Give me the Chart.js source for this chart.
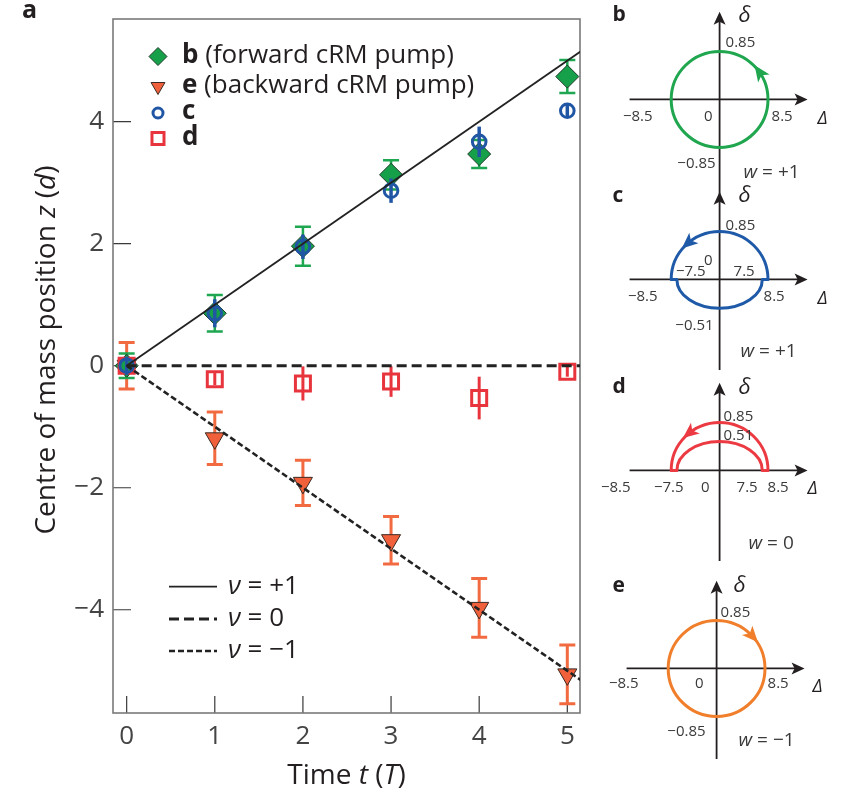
<!DOCTYPE html>
<html>
<head>
<meta charset="utf-8">
<script src="https://cdn.jsdelivr.net/npm/chart.js@4.4.0/dist/chart.umd.min.js"></script>
<style>
  html, body { margin: 0; padding: 0; background: #fff; }
  #wrap { position: relative; width: 850px; height: 793px; overflow: hidden; }
  canvas { position: absolute; }
</style>
</head>
<body>
<div id="wrap">
  <canvas id="main" width="600" height="793" style="left:0;top:0"></canvas>
  <canvas id="panelB" width="250" height="200" style="left:600px;top:0px"></canvas>
  <canvas id="panelC" width="250" height="200" style="left:600px;top:180px"></canvas>
  <canvas id="panelD" width="250" height="200" style="left:600px;top:371px"></canvas>
  <canvas id="panelE" width="250" height="200" style="left:597px;top:569px"></canvas>
</div>
<script>
// ---- data ----
const timeT = [0, 1, 2, 3, 4, 5];
const zForward = [0, 0.86, 1.96, 3.13, 3.47, 4.74];     // b, forward cRM pump
const errForward = [0.2, 0.3, 0.32, 0.24, 0.23, 0.27];
const zBackward = [0, -1.19, -1.92, -2.86, -3.97, -5.06]; // e, backward cRM pump
const errBackward = [0.38, 0.43, 0.37, 0.39, 0.48, 0.48];
const zC = [0, 0.86, 1.95, 2.87, 3.67, 4.18];
const errC = [0.15, 0.23, 0.2, 0.2, 0.25, 0.1];
const zD = [0, -0.22, -0.29, -0.26, -0.53, -0.1];
const errD = [0.1, 0.1, 0.28, 0.25, 0.35, 0.08];

const tTicks = [0, 1, 2, 3, 4, 5];
const zTicks = [-4, -2, 0, 2, 4];

// topological pumping lines z = nu * t
const nuValues = [1, 0, -1];
const nuLabels = ['+1', '0', '\u22121'];
const fitT = [0, 5.3];

// insets b-e : loops in the (Delta, delta) plane
const panelKeys = ['b', 'c', 'd', 'e'];
const windingW = ['+1', '+1', '0', '\u22121'];
const upperDelta = [8.5, 8.5, 8.5, 8.5];
const upperAmp = [0.85, 0.85, 0.85, 0.85];
const lowerDelta = [8.5, 7.5, 7.5, 8.5];
const lowerAmp = [-0.85, -0.51, 0.51, -0.85];
const loopSense = [1, 1, 1, -1]; // +1 counter-clockwise, -1 clockwise

// ---- styles ----
const FONT = '"Open Sans", "DejaVu Sans", sans-serif';
const INK = '#231f20';
const minus = v => (v < 0 ? '\u2212' + Math.abs(v) : String(v));

const series = [
  { key: 'b', note: '(forward cRM pump)', z: zForward, err: errForward, style: 'rectRot', radius: 11.5,
    rotation: 0, fill: '#17a04a', stroke: '#1c3b28', bw: 1, errColor: '#1fa650', errWidth: 2.5, cap: 8, over: false,
    legendRadius: 9, order: 4 },
  { key: 'e', note: '(backward cRM pump)', z: zBackward, err: errBackward, style: 'triangle', radius: 11,
    rotation: 180, fill: '#f0603a', stroke: '#3b2a22', bw: 1, errColor: '#f26b40', errWidth: 3, cap: 8, over: false,
    legendRadius: 8, order: 4 },
  { key: 'c', note: '', z: zC, err: errC, style: 'circle', radius: 6.8,
    rotation: 0, fill: 'rgba(0,0,0,0)', stroke: '#2156a5', bw: 3, errColor: '#2156a5', errWidth: 3.5, cap: 0, over: true,
    legendRadius: 5, order: 2 },
  { key: 'd', note: '', z: zD, err: errD, style: 'rect', radius: 10.6,
    rotation: 0, fill: 'rgba(0,0,0,0)', stroke: '#e8353d', bw: 3, errColor: '#e8353d', errWidth: 3, cap: 0, over: true,
    legendRadius: 8.5, order: 3 }
];
const nuStyles = [
  { width: 1.8, dash: [] },
  { width: 3, dash: [10, 5] },
  { width: 2.6, dash: [6, 3] }
];

function runs(ctx, parts, x, y, align) {
  let total = 0;
  parts.forEach(p => { ctx.font = p[1]; total += ctx.measureText(p[0]).width; });
  let cx = align === 'center' ? x - total / 2 : align === 'right' ? x - total : x;
  ctx.textAlign = 'left';
  parts.forEach(p => { ctx.font = p[1]; ctx.fillText(p[0], cx, y); cx += ctx.measureText(p[0]).width; });
}

// error bars: behind markers for b/e, on top for c/d
function drawErr(chart, args, over) {
  const ds = chart.data.datasets[args.index];
  if (!ds.errors || ds.errOver !== over) return;
  const { ctx, scales: { x, y } } = chart;
  ctx.save();
  ctx.strokeStyle = ds.errColor;
  ctx.lineWidth = ds.errWidth;
  ds.data.forEach((p, i) => {
    const px = x.getPixelForValue(p.x);
    const y1 = y.getPixelForValue(p.y + ds.errors[i]);
    const y2 = y.getPixelForValue(p.y - ds.errors[i]);
    ctx.beginPath();
    ctx.moveTo(px, y1); ctx.lineTo(px, y2);
    if (ds.errCap) {
      ctx.moveTo(px - ds.errCap, y1); ctx.lineTo(px + ds.errCap, y1);
      ctx.moveTo(px - ds.errCap, y2); ctx.lineTo(px + ds.errCap, y2);
    }
    ctx.stroke();
  });
  ctx.restore();
}

const errorBars = {
  id: 'errorBars',
  beforeDatasetDraw(chart, args) { drawErr(chart, args, false); },
  afterDatasetDraw(chart, args) { drawErr(chart, args, true); }
};

const frame = {
  id: 'frame',
  beforeDatasetsDraw(chart) {
    const { ctx, chartArea: a, scales: { x, y } } = chart;
    ctx.save();
    ctx.strokeStyle = '#3a3a3a';
    ctx.lineWidth = 1.2;
    ctx.beginPath();
    x.ticks.forEach(t => { const px = x.getPixelForValue(t.value); ctx.moveTo(px, a.bottom); ctx.lineTo(px, a.bottom - 17); });
    y.ticks.forEach(t => { const py = y.getPixelForValue(t.value); ctx.moveTo(a.left, py); ctx.lineTo(a.left + 18, py); });
    ctx.stroke();
    ctx.strokeStyle = '#7a7a7a';
    ctx.lineWidth = 1.6;
    ctx.strokeRect(a.left, a.top, a.right - a.left, a.bottom - a.top);
    ctx.restore();
  },
  afterDraw(chart) {
    const { ctx, chartArea: a } = chart;
    ctx.save();
    ctx.fillStyle = INK;
    ctx.textBaseline = 'middle';
    // panel letter
    runs(ctx, [['a', 'bold 25px ' + FONT]], 22, 11, 'left');
    // marker legend
    const rowY = [37.5, 67.5, 94, 119.5];
    series.forEach((s, i) => {
      const cy = a.top + rowY[i];
      ctx.fillStyle = s.fill; ctx.strokeStyle = s.stroke;
      ctx.lineWidth = s.bw;
      Chart.helpers.drawPoint(ctx, { pointStyle: s.style, radius: s.legendRadius, rotation: s.rotation, borderWidth: s.bw }, a.left + 45, cy);
      ctx.fillStyle = INK;
      const parts = [[s.key, 'bold 26px ' + FONT]];
      if (s.note) parts.push([' ' + s.note, '26px ' + FONT]);
      runs(ctx, parts, a.left + 69, cy - 1, 'left');
    });
    // line legend
    const lineY = [567.7, 600, 632];
    nuValues.forEach((nu, i) => {
      const cy = a.top + lineY[i];
      ctx.strokeStyle = '#222'; ctx.lineWidth = nuStyles[i].width;
      ctx.setLineDash(nuStyles[i].dash);
      ctx.beginPath(); ctx.moveTo(a.left + 56, cy); ctx.lineTo(a.left + 104, cy); ctx.stroke();
      ctx.setLineDash([]);
      ctx.fillStyle = INK;
      runs(ctx, [['\u03bd', 'italic 26px ' + FONT], [' = ' + nuLabels[i], '26px ' + FONT]], a.left + 115, cy, 'left');
    });
    // axis titles
    runs(ctx, [['Time ', '28px ' + FONT], ['t', 'italic 28px ' + FONT], [' (', '28px ' + FONT],
      ['T', 'italic 28px ' + FONT], [')', '28px ' + FONT]], (a.left + a.right) / 2, 776, 'center');
    ctx.translate(47, 350);
    ctx.rotate(-Math.PI / 2);
    runs(ctx, [['Centre of mass position ', '28px ' + FONT], ['z', 'italic 28px ' + FONT], [' (', '28px ' + FONT],
      ['d', 'italic 28px ' + FONT], [')', '28px ' + FONT]], 0, 0, 'center');
    ctx.restore();
  }
};

const pts = ys => timeT.map((t, i) => ({ x: t, y: ys[i] }));

const datasets = series.map(s => ({
  type: 'scatter',
  label: s.key,
  data: pts(s.z),
  errors: s.err,
  errColor: s.errColor, errWidth: s.errWidth, errCap: s.cap, errOver: s.over,
  pointStyle: s.style, pointRadius: s.radius, pointRotation: s.rotation,
  backgroundColor: s.fill, borderColor: s.stroke, pointBorderWidth: s.bw,
  order: s.order, clip: false
}));
nuValues.forEach((nu, i) => {
  datasets.push({
    type: 'line',
    label: '\u03bd = ' + nuLabels[i],
    data: fitT.map(t => ({ x: t, y: nu * t })),
    borderColor: '#222', borderWidth: nuStyles[i].width, borderDash: nuStyles[i].dash,
    pointRadius: 0, fill: false, order: 0, clip: 0
  });
});

new Chart(document.getElementById('main'), {
  type: 'scatter',
  data: { datasets },
  options: {
    responsive: false, animation: false, devicePixelRatio: 1, events: [],
    layout: { padding: { top: 19, right: 20, left: 0, bottom: 0 } },
    plugins: { legend: { display: false }, tooltip: { enabled: false } },
    scales: {
      x: {
        type: 'linear', min: -0.155, max: 5.144,
        afterBuildTicks: s => { s.ticks = tTicks.map(v => ({ value: v })); },
        afterFit: s => { s.height = 80; s.paddingLeft = 0; s.paddingRight = 0; },
        grid: { display: false, drawTicks: false }, border: { display: false },
        ticks: { padding: 8, color: '#444', font: { family: FONT, size: 26 }, callback: v => minus(v), maxRotation: 0 }
      },
      y: {
        type: 'linear', min: -5.693, max: 5.684,
        afterBuildTicks: s => { s.ticks = zTicks.map(v => ({ value: v })); },
        afterFit: s => { s.width = 113; s.paddingTop = 0; s.paddingBottom = 0; },
        grid: { display: false, drawTicks: false }, border: { display: false },
        ticks: { padding: 9, color: '#444', font: { family: FONT, size: 26 }, callback: v => minus(v) }
      }
    }
  },
  plugins: [errorBars, frame]
});

// ---- insets ----
const loopColors = ['#1fa64f', '#1f5aa8', '#ec3a42', '#f07e2a'];
const arrowAngle = [35, 131, 129, 42]; // degrees along outer arc
const NUM = '15px ' + FONT;
const panelLabels = [
  [['\u03b4', 19, -84, 'left', 'g'], ['0.85', 6, -57, 'left'], ['\u22128.5', -67, 17, 'right'], ['0', -7, 17, 'right'],
   ['8.5', 52, 17, 'left'], ['\u0394', 98, 19, 'left', 'D'], ['\u22120.85', -4, 64, 'right'], ['w', 24, 73, 'left', 'w'], ['b', -107, -84, 'left', 'k']],
  [['\u03b4', 19, -84, 'left', 'g'], ['0.85', 6, -54, 'left'], ['0', -7, -19, 'right'], ['\u22127.5', -14, -8, 'right'],
   ['7.5', 14, -8, 'left'], ['\u22128.5', -62, 17, 'right'], ['8.5', 44, 17, 'left'], ['\u0394', 98, 19, 'left', 'D'],
   ['\u22120.51', -6, 46, 'right'], ['w', 21, 72, 'left', 'w'], ['c', -107, -83, 'left', 'k']],
  [['\u03b4', 19, -83, 'left', 'g'], ['0.85', 4, -54, 'left'], ['0.51', 4, -35, 'left'], ['\u22128.5', -89, 17, 'right'],
   ['\u22127.5', -36, 17, 'right'], ['0', -10, 17, 'right'], ['7.5', 17, 17, 'left'], ['8.5', 48, 17, 'left'],
   ['\u0394', 88, 18, 'left', 'D'], ['w', 29, 73, 'left', 'w'], ['d', -107, -83, 'left', 'k']],
  [['\u03b4', 17, -83, 'left', 'g'], ['0.85', 4, -56, 'left'], ['\u22128.5', -78, 15, 'right'], ['0', -13, 15, 'right'],
   ['8.5', 51, 15, 'left'], ['\u0394', 96, 18, 'left', 'D'], ['\u22120.85', -11, 63, 'right'], ['w', 22, 72, 'left', 'w'], ['e', -104, -82, 'left', 'k']]
];

function arrowHead(ctx, x, y, ux, uy, len, half, notch) {
  const bx = x - ux * len, by = y - uy * len;
  ctx.beginPath();
  ctx.moveTo(x, y);
  ctx.lineTo(bx - uy * half, by + ux * half);
  ctx.lineTo(bx + ux * notch, by + uy * notch);
  ctx.lineTo(bx + uy * half, by - ux * half);
  ctx.closePath();
  ctx.fill();
}

const loopPlugin = {
  id: 'loopPanel',
  afterDraw(chart, args, opts) {
    const i = opts.panel;
    const { ctx, scales: { x, y } } = chart;
    const ox = x.getPixelForValue(0), oy = y.getPixelForValue(0);
    ctx.save();
    // axes with arrows
    ctx.strokeStyle = INK; ctx.fillStyle = INK; ctx.lineWidth = 1.8;
    const top = 11.7, bottom = i === 0 ? 195 : 190;
    ctx.beginPath();
    ctx.moveTo(ox - 90, oy); ctx.lineTo(ox + 80, oy);
    ctx.moveTo(ox, bottom); ctx.lineTo(ox, top + 8);
    ctx.stroke();
    arrowHead(ctx, ox + 88, oy, 1, 0, 13, 6, 3);
    arrowHead(ctx, ox, top, 0, -1, 13, 6, 3);
    // loop
    const rxU = x.getPixelForValue(upperDelta[i]) - ox;
    const ryU = oy - y.getPixelForValue(upperAmp[i]);
    const rxL = x.getPixelForValue(lowerDelta[i]) - ox;
    const ryL = Math.abs(y.getPixelForValue(lowerAmp[i]) - oy);
    ctx.strokeStyle = loopColors[i]; ctx.fillStyle = loopColors[i];
    ctx.lineWidth = 3; ctx.lineJoin = 'round';
    ctx.beginPath();
    ctx.ellipse(ox, oy, rxU, ryU, 0, 0, Math.PI, true);
    ctx.lineTo(ox - rxL, oy);
    if (lowerAmp[i] < 0) ctx.ellipse(ox, oy, rxL, ryL, 0, Math.PI, 0, true);
    else ctx.ellipse(ox, oy, rxL, ryL, 0, Math.PI, 2 * Math.PI, false);
    ctx.closePath();
    ctx.stroke();
    const phi = arrowAngle[i] * Math.PI / 180;
    const px = ox + rxU * Math.cos(phi), py = oy - ryU * Math.sin(phi);
    let ux = -rxU * Math.sin(phi) * loopSense[i], uy = -ryU * Math.cos(phi) * loopSense[i];
    const n = Math.hypot(ux, uy); ux /= n; uy /= n;
    arrowHead(ctx, px + ux * 8, py + uy * 8, ux, uy, 16, 7, 4);
    // labels
    ctx.textBaseline = 'middle';
    panelLabels[i].forEach(l => {
      const [txt, dx, dy, align, kind] = l;
      let parts;
      if (kind === 'g') parts = [[txt, 'italic 22px ' + FONT]];
      else if (kind === 'D') parts = [[txt, 'italic 18px ' + FONT]];
      else if (kind === 'k') parts = [[txt, 'bold 21px ' + FONT]];
      else if (kind === 'w') parts = [['w', 'italic 19px ' + FONT], [' = ' + windingW[i], '19px ' + FONT]];
      else parts = [[txt, NUM]];
      ctx.fillStyle = (kind === 'k' || kind === 'g' || kind === 'D') ? INK : '#3a3a3a';
      runs(ctx, parts, ox + dx, oy + dy, align);
    });
    ctx.restore();
  }
};

panelKeys.forEach((k, i) => {
  new Chart(document.getElementById('panel' + k.toUpperCase()), {
    type: 'scatter',
    data: {
      datasets: [{
        label: k,
        data: [{ x: upperDelta[i], y: 0 }, { x: -upperDelta[i], y: 0 }, { x: 0, y: upperAmp[i] }, { x: 0, y: lowerAmp[i] }],
        pointRadius: 0
      }]
    },
    options: {
      responsive: false, animation: false, devicePixelRatio: 1, events: [],
      layout: { padding: 0 },
      plugins: { legend: { display: false }, tooltip: { enabled: false }, loopPanel: { panel: i } },
      scales: {
        x: { type: 'linear', display: false, min: -21, max: 22.9 },
        y: { type: 'linear', display: false, min: -1.78, max: 1.76 }
      }
    },
    plugins: [loopPlugin]
  });
});
</script>
</body>
</html>
